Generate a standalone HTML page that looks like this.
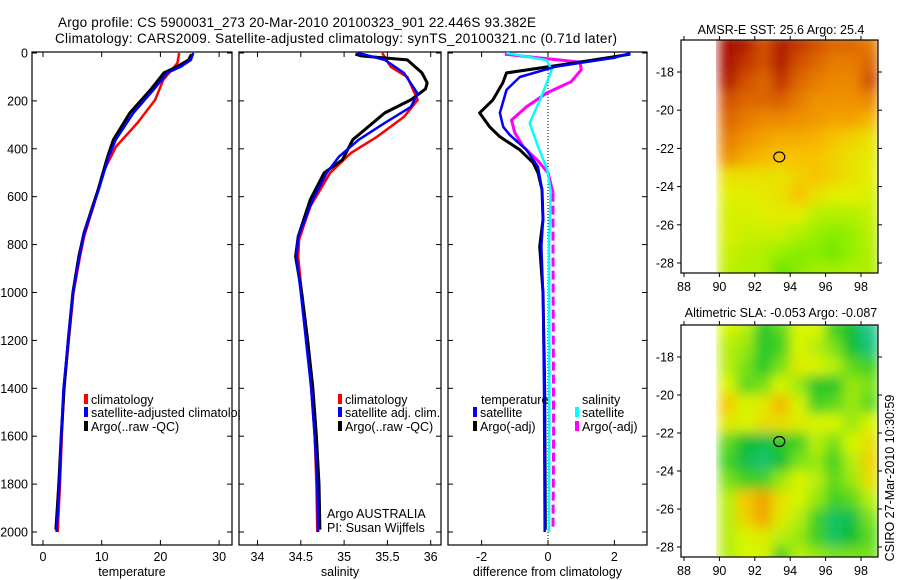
<!DOCTYPE html>
<html><head><meta charset="utf-8">
<style>
html,body{margin:0;padding:0;background:#fff;}
svg{display:block;font-family:"Liberation Sans",sans-serif;}
text{fill:#000;}
</style></head>
<body>
<svg id="fig" width="900" height="580" viewBox="0 0 900 580" xmlns="http://www.w3.org/2000/svg">
<defs>
<clipPath id="cp1"><rect x="32" y="52" width="200" height="493"/></clipPath>
<clipPath id="cl1"><rect x="32" y="52" width="208" height="493"/></clipPath>
<clipPath id="cp2"><rect x="239" y="52" width="202" height="493"/></clipPath>
<clipPath id="cp3"><rect x="448" y="52" width="199" height="493"/></clipPath>
<clipPath id="cm1"><rect x="716" y="40" width="162" height="233"/></clipPath>
<clipPath id="cm2"><rect x="716" y="325" width="162" height="232"/></clipPath>
<filter id="blur" x="-5%" y="-5%" width="110%" height="110%"><feGaussianBlur stdDeviation="6" edgeMode="duplicate"/></filter>
</defs>
<text x="297" y="27" font-size="13.5" text-anchor="middle" textLength="478">Argo profile: CS 5900031_273 20-Mar-2010 20100323_901 22.446S 93.382E</text>
<text x="336" y="43" font-size="13.5" text-anchor="middle" textLength="562">Climatology: CARS2009. Satellite-adjusted climatology: synTS_20100321.nc (0.71d later)</text>
<g id="g1"></g>
<g id="g2"></g>
<g id="g3"></g>
<g id="m1"></g>
<g id="m2"></g>
<text transform="translate(894,478) rotate(-90)" font-size="12.5" text-anchor="middle">CSIRO 27-Mar-2010 10:30:59</text>
</svg>
<script>
const tClimDepth = [0,42,112,196,292,392,500,640,766,850,1000,1200,1400,1600,1800,2000];
const tClim      = [23.2,22.9,20.5,19.1,16.1,12.4,10.2,8.6,7.0,6.3,5.2,4.4,3.6,3.2,2.9,2.5];
const tSatDepth  = [0,29,58,83,154,250,362,433,570,750,850,1000,1200,1400,1600,1800,2000];
const tSat       = [25.6,25.2,23.4,21.2,18.8,15.4,12.4,11.2,9.5,7.0,6.2,5.1,4.3,3.5,3.1,2.8,2.3];
const tArgoDepth = [5,29,58,83,154,250,362,433,570,750,850,1000,1200,1400,1600,1800,1990];
const tArgo      = [25.3,24.8,22.8,20.6,18.3,14.8,12.0,11.0,9.4,7.0,6.1,5.1,4.3,3.6,3.1,2.7,2.2];

const sClimDepth = [0,58,100,196,267,350,417,500,640,779,850,1000,1200,1400,1600,1800,2000];
const sClim      = [35.44,35.54,35.73,35.85,35.69,35.38,35.08,34.84,34.61,34.48,34.47,34.51,34.57,34.62,34.66,34.68,34.69];
const sSatDepth  = [0,8,29,83,170,225,292,362,433,500,612,766,850,1000,1200,1400,1600,1800,2000];
const sSat       = [35.15,35.25,35.47,35.69,35.85,35.77,35.47,35.17,34.94,34.80,34.64,34.47,34.45,34.50,34.56,34.62,34.66,34.69,34.70];
const sArgoDepth = [5,12,29,83,125,150,196,250,362,446,500,612,766,850,1000,1200,1400,1600,1800,1990];
const sArgo      = [35.13,35.20,35.73,35.90,35.96,35.94,35.77,35.47,35.10,34.98,34.77,34.61,34.47,34.44,34.51,34.58,34.64,34.68,34.71,34.72];

const dTSatDepth = [0,20,45,58,100,154,250,308,342,404,475,570,700,808,1000,1400,2000];
const dTSat      = [2.48,2.0,0.8,0.2,-0.85,-1.25,-1.45,-1.35,-1.15,-0.65,-0.3,-0.18,-0.15,-0.2,-0.15,-0.12,-0.1];
const dTArgoDepth= [5,42,83,125,196,250,308,350,404,458,500,570,696,808,1000,1400,1990];
const dTArgo     = [2.48,0.76,-1.25,-1.36,-1.66,-2.06,-1.76,-1.45,-0.85,-0.45,-0.3,-0.18,-0.15,-0.25,-0.15,-0.1,-0.08];
const dSSatDepth = [0,30,70,125,196,292,390,487,580,800,1200,1600,2000];
const dSSat      = [-1.25,-0.04,0.11,-0.04,-0.24,-0.55,-0.3,-0.02,0.08,0.03,0.04,0.04,0.03];
const dSArgoDepthUpper = [5,20,38,70,120,167,225,280,333,390,450,500,583];
const dSArgoUpper      = [-1.3,-0.3,0.97,1.0,0.7,-0.04,-0.65,-1.1,-1.0,-0.75,-0.3,0.0,0.15];
const dSArgoDepthDeep  = [583,800,1200,1600,1990];
const dSArgoDeep       = [0.15,0.15,0.16,0.17,0.15];

const depthTicks = [0,200,400,600,800,1000,1200,1400,1600,1800,2000];
const tTicks = [0,10,20,30];
const sTicks = [34,34.5,35,35.5,36];
const sTickLabels = ['34','34.5','35','35.5','36'];
const dTicks = [-2,0,2];

const mapLats = [-16.5,-17.5,-18.5,-19.5,-20.5,-21.5,-22.5,-23.5,-24.5,-25.5,-26.5,-27.5,-28.5];
const mapLons = [90.5,91.5,92.5,93.5,94.5,95.5,96.5,97.5,98.5];
const sstGrid = [
[0.98,0.95,0.85,0.95,0.9,0.85,0.8,0.8,0.75],
[0.97,0.9,0.85,0.95,0.85,0.8,0.75,0.75,0.8],
[0.95,0.85,0.8,0.9,0.8,0.75,0.72,0.72,0.85],
[0.85,0.8,0.8,0.82,0.75,0.7,0.7,0.7,0.72],
[0.8,0.75,0.72,0.72,0.7,0.68,0.65,0.65,0.6],
[0.75,0.7,0.65,0.62,0.62,0.6,0.55,0.5,0.45],
[0.7,0.62,0.58,0.55,0.55,0.55,0.5,0.45,0.42],
[0.45,0.45,0.45,0.45,0.5,0.55,0.5,0.45,0.4],
[0.4,0.4,0.42,0.45,0.55,0.45,0.4,0.4,0.38],
[0.38,0.38,0.4,0.42,0.4,0.32,0.3,0.3,0.35],
[0.38,0.35,0.35,0.35,0.3,0.25,0.22,0.25,0.32],
[0.35,0.32,0.3,0.25,0.22,0.22,0.18,0.25,0.3],
[0.33,0.3,0.3,0.15,0.22,0.28,0.28,0.3,0.3]];
const slaGrid = [
[0.6,0.55,0.3,0.4,0.6,0.6,0.35,0.25,0.05],
[0.55,0.5,0.3,0.35,0.6,0.55,0.45,0.25,0.1],
[0.55,0.45,0.3,0.45,0.65,0.6,0.55,0.4,0.35],
[0.6,0.4,0.45,0.6,0.5,0.3,0.3,0.5,0.45],
[0.8,0.6,0.65,0.85,0.6,0.35,0.4,0.5,0.4],
[0.65,0.6,0.7,0.7,0.65,0.6,0.6,0.5,0.6],
[0.4,0.25,0.2,0.3,0.35,0.55,0.45,0.6,0.7],
[0.35,0.2,0.12,0.25,0.45,0.5,0.35,0.55,0.75],
[0.45,0.35,0.35,0.5,0.6,0.55,0.4,0.5,0.7],
[0.55,0.8,0.9,0.7,0.6,0.5,0.35,0.4,0.55],
[0.55,0.75,0.9,0.65,0.55,0.35,0.15,0.2,0.45],
[0.55,0.6,0.65,0.55,0.5,0.35,0.15,0.25,0.4],
[0.55,0.6,0.6,0.35,0.55,0.5,0.45,0.45,0.45]];
const lonTicks = [88,90,92,94,96,98];
const latTicks = [-18,-20,-22,-24,-26,-28];
const argoLon = 93.382, argoLat = -22.446;

const NS='http://www.w3.org/2000/svg';
function mk(tag, attrs, parent){const e=document.createElementNS(NS,tag);for(const k in attrs)e.setAttribute(k,attrs[k]);parent.appendChild(e);return e;}
const yD = d => 53 + d*0.2395;
const PT = 545;

function panel(g, x0, x1, xs, ticks, labels, xlabel, clip, showY){
  const f = mk('rect',{x:x0,y:52,width:x1-x0,height:PT-52,fill:'none',stroke:'#000','stroke-width':1.2},g);
  
  
  ticks.forEach((t,i)=>{
    const x=xs(t);
    mk('line',{x1:x,y1:52,x2:x,y2:57,stroke:'#000'},g);
    mk('line',{x1:x,y1:PT,x2:x,y2:PT-5,stroke:'#000'},g);
    const tx=mk('text',{x:x,y:561,'font-size':12.5,'text-anchor':'middle'},g);
    tx.textContent=labels[i];
    
    
  });
  depthTicks.forEach(d=>{
    const y=yD(d);
    mk('line',{x1:x0,y1:y,x2:x0+5,y2:y,stroke:'#000'},g);
    mk('line',{x1:x1,y1:y,x2:x1-5,y2:y,stroke:'#000'},g);
    if(showY){
      const tx=mk('text',{x:28,y:y+4.5,'font-size':12.5,'text-anchor':'end'},g);
      tx.textContent=d;
      
      
    }
  });
  const xl=mk('text',{x:(x0+x1)/2,y:576,'font-size':12.5,'text-anchor':'middle'},g);
  xl.textContent=xlabel;
  
  
  return mk('g',{'clip-path':'url(#'+clip+')'},g);
}
function line(g, depths, vals, xs, color, w, name, dash){
  const pts = depths.map((d,i)=>xs(vals[i]).toFixed(1)+','+yD(d).toFixed(1)).join(' ');
  const p = mk('polyline',{points:pts,fill:'none',stroke:color,'stroke-width':w,'stroke-linejoin':'round'},g);
  if(dash) p.setAttribute('stroke-dasharray',dash);
  
  
}
function legend(g, x, y, color, label, name){
  const r=mk('rect',{x:x,y:y-6,width:4,height:10,fill:color},g);
  
  
  const t=mk('text',{x:x+7,y:y+4,'font-size':12.5},g);
  t.textContent=label;
  
  
}

const g1=document.getElementById('g1');
const xT = t => 43 + 5.87*t;
const c1 = panel(g1,32,232,xT,tTicks,tTicks.map(String),'temperature','cp1',true);
line(c1,tClimDepth,tClim,xT,'#f00',2.5,'climatology-temperature-line');
line(c1,tArgoDepth,tArgo,xT,'#000',3,'argo-temperature-line');
line(c1,tSatDepth,tSat,xT,'#00f',2.5,'satellite-temperature-line');
const lg1=mk('g',{'clip-path':'url(#cl1)'},g1);
legend(lg1,84,400,'#f00','climatology','legend-climatology');
legend(lg1,84,413,'#00f','satellite-adjusted climatology','legend-satellite-adjusted');
legend(lg1,84,427,'#000','Argo(..raw -QC)','legend-argo-raw');

const g2=document.getElementById('g2');
const xS = s => 257.5 + 86.6*(s-34);
const c2 = panel(g2,239,441,xS,sTicks,sTickLabels,'salinity','cp2',false);
line(c2,sClimDepth,sClim,xS,'#f00',2.5,'climatology-salinity-line');
line(c2,sArgoDepth,sArgo,xS,'#000',3,'argo-salinity-line');
line(c2,sSatDepth,sSat,xS,'#00f',2.5,'satellite-salinity-line');
legend(g2,338,400,'#f00','climatology','legend-climatology-sal');
legend(g2,338,413,'#00f','satellite adj. clim.','legend-satellite-adj-sal');
legend(g2,338,427,'#000','Argo(..raw -QC)','legend-argo-raw-sal');
const a1=mk('text',{x:327,y:518,'font-size':12.5},g2); a1.textContent='Argo AUSTRALIA';


const a2=mk('text',{x:327,y:532,'font-size':12.5},g2); a2.textContent='PI: Susan Wijffels';



const g3=document.getElementById('g3');
const xDf = v => 548 + 33.2*v;
const c3 = panel(g3,448,647,xDf,dTicks,dTicks.map(String),'difference from climatology','cp3',false);
const zl=mk('line',{x1:xDf(0),y1:52,x2:xDf(0),y2:PT,stroke:'#000','stroke-dasharray':'1,2'},c3);


line(c3,dSArgoDepthUpper,dSArgoUpper,xDf,'#f0f',3,'argo-salinity-diff-line-upper');
line(c3,dSArgoDepthDeep,dSArgoDeep,xDf,'#f0f',3,'argo-salinity-diff-line-deep','9,4');
line(c3,dTArgoDepth,dTArgo,xDf,'#000',3,'argo-temperature-diff-line');
line(c3,dSSatDepth,dSSat,xDf,'#0ff',2.5,'satellite-salinity-diff-line');
line(c3,dTSatDepth,dTSat,xDf,'#00f',2.5,'satellite-temperature-diff-line');
const h1=mk('text',{x:481,y:404,'font-size':12.5},g3); h1.textContent='temperature';


const h2=mk('text',{x:582,y:404,'font-size':12.5},g3); h2.textContent='salinity';


legend(g3,473,413,'#00f','satellite','legend-temp-satellite');
legend(g3,473,427,'#000','Argo(-adj)','legend-temp-argo');
legend(g3,575,413,'#0ff','satellite','legend-sal-satellite');
legend(g3,575,427,'#f0f','Argo(-adj)','legend-sal-argo');

function cmap(stops, t){
  t=Math.max(0,Math.min(1,t));
  for(let i=1;i<stops.length;i++){
    if(t<=stops[i][0]){
      const a=stops[i-1],b=stops[i],f=(t-a[0])/(b[0]-a[0]);
      const c=[0,1,2].map(k=>Math.round(a[1][k]+(b[1][k]-a[1][k])*f));
      return 'rgb('+c.join(',')+')';
    }
  }
  const l=stops[stops.length-1][1];return 'rgb('+l.join(',')+')';
}
const sstStops=[[0,[30,210,0]],[0.25,[150,240,0]],[0.4,[225,240,0]],[0.55,[248,195,0]],[0.7,[240,145,0]],[0.85,[210,80,0]],[1,[160,0,0]]];
const slaStops=[[0,[40,200,170]],[0.25,[10,190,50]],[0.45,[120,225,20]],[0.6,[215,245,0]],[0.8,[245,200,0]],[1,[235,130,0]]];

function drawMap(gid, top, bot, grid, stops, clip, title, titleY, name){
  const g=document.getElementById(gid);
  const L=681,R=878;
  const xl = lon => 684 + (lon-88)*17.7;
  const yl = lat => top + 32 + (-18-lat)*((bot-top-42)/10);
  const cg=mk('g',{'clip-path':'url(#'+clip+')'},g);
  const fg=mk('g',{filter:'url(#blur)'},cg);
  mapLats.forEach((lat,i)=>mapLons.forEach((lon,j)=>{
    const x0=xl(lon-0.5), y0=yl(lat+0.5), x1=xl(lon+0.5), y1=yl(lat-0.5);
    const r=mk('rect',{x:x0-0.5,y:y0-0.5,width:x1-x0+1,height:y1-y0+1,fill:cmap(stops,grid[i][j])},fg);
    
    
  }));
  const fr=mk('rect',{x:L,y:top,width:R-L,height:bot-top,fill:'none',stroke:'#000','stroke-width':1.2},g);
  
  
  lonTicks.forEach(lon=>{
    const x=xl(lon);
    mk('line',{x1:x,y1:top,x2:x,y2:top-4,stroke:'#000'},g);
    mk('line',{x1:x,y1:bot,x2:x,y2:bot+4,stroke:'#000'},g);
    const t=mk('text',{x:x,y:bot+18,'font-size':12.5,'text-anchor':'middle'},g);
    t.textContent=lon;
    
    
  });
  latTicks.forEach(lat=>{
    const y=yl(lat);
    mk('line',{x1:L,y1:y,x2:L-4,y2:y,stroke:'#000'},g);
    mk('line',{x1:R,y1:y,x2:R+4,y2:y,stroke:'#000'},g);
    const t=mk('text',{x:674,y:y+4.5,'font-size':12.5,'text-anchor':'end'},g);
    t.textContent=lat;
    
    
  });
  const c=mk('ellipse',{cx:xl(argoLon),cy:yl(argoLat),rx:5.5,ry:5,fill:'none',stroke:'#000','stroke-width':1.2},g);
  
  
  const tt=mk('text',{x:781,y:titleY,'font-size':12.5,'text-anchor':'middle'},g);
  tt.textContent=title;
  
  
}
drawMap('m1',40,273,sstGrid,sstStops,'cm1','AMSR-E SST: 25.6 Argo: 25.4',34,'sst-map');
drawMap('m2',325,557,slaGrid,slaStops,'cm2','Altimetric SLA: -0.053 Argo: -0.087',317,'sla-map');
</script>
</body></html>
